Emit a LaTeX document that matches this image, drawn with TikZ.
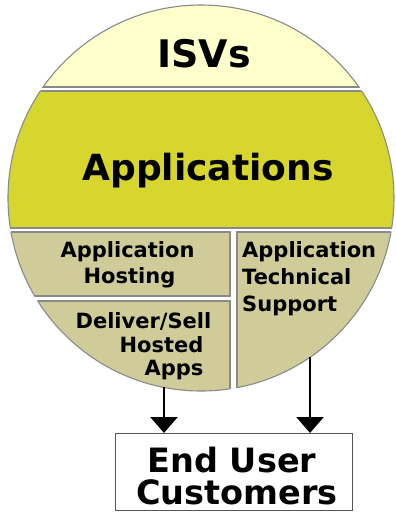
\documentclass[tikz,border=0pt]{standalone}
\usepackage{fontspec}
\setmainfont{DejaVu Sans}
\usetikzlibrary{arrows.meta}
\definecolor{isvfill}{HTML}{FFFFCC}
\definecolor{appfill}{HTML}{D6D62E}
\definecolor{cellfill}{HTML}{D0CC9A}
\definecolor{edgegray}{HTML}{8A8A8A}
\definecolor{boxgray}{HTML}{555555}
% a piece of the disc: rectangle [#2,#4] x [#3,#5] cut by the circle
\newcommand\bandzone[5]{%
  \begin{scope}
    \clip (#2,#3) rectangle (#4,#5);
    \filldraw[fill=#1, edge] (C) circle (193);
  \end{scope}
  \begin{scope}
    \clip (C) circle (193);
    \draw[edge] (#2,#3) rectangle (#4,#5);
  \end{scope}}
\begin{document}
\begin{tikzpicture}[x=1pt,y=-1pt,
  edge/.style={draw=edgegray, line width=1.1pt},
  bigtext/.style={font=\bfseries\fontsize{37}{40}\selectfont, inner sep=0pt, anchor=base},
  smalltext/.style={font=\bfseries\fontsize{21}{24}\selectfont, inner sep=0pt, anchor=base},
  flow/.style={line width=2.6pt, -{Triangle[width=27pt,length=16pt]}}]
\useasboundingbox (0,0) rectangle (396,512);
\coordinate (C) at (201,198);

% the disc, cut into its bands and cells
\bandzone{isvfill}{0}{0}{396}{87}
\bandzone{appfill}{0}{91}{396}{228}
\bandzone{cellfill}{0}{232}{230}{296}
\bandzone{cellfill}{0}{301}{230}{400}
\bandzone{cellfill}{237}{232}{396}{400}

% labels of the bands
\node[bigtext, font=\bfseries\fontsize{38}{40}\selectfont] (isv) at (204,67) {ISVs};
\node[bigtext, font=\bfseries\fontsize{36}{40}\selectfont] (apps) at (208,180) {Applications};

% left cells
\node[smalltext] (hostA) at (127.5,257) {Application};
\node[smalltext] (hostB) at (129.5,283) {Hosting};
\node[smalltext] (dlvA) at (143.5,328) {Deliver/Sell};
\node[smalltext] (dlvB) at (161.5,352) {Hosted};
\node[smalltext] (dlvC) at (174,375) {Apps};

% right cell
\node[smalltext, anchor=base west] (supA) at (242,257) {Application};
\node[smalltext, anchor=base west] (supB) at (242,284) {Technical};
\node[smalltext, anchor=base west] (supC) at (242,311) {Support};

% customers box
\node[draw=boxgray, line width=1.2pt, minimum width=237pt, minimum height=77pt,
      inner sep=0pt, anchor=north west] (euc) at (115,433) {};
\node[bigtext, font=\bfseries\fontsize{33.5}{40}\selectfont] (eucA) at (232,472) {End User};
\node[bigtext, font=\bfseries\fontsize{33.5}{40}\selectfont] (eucB) at (237,504) {Customers};

% connectors from the cells down to the customers
\coordinate (dlvfoot) at (164,387);
\coordinate (supfoot) at (310,357);
\draw[flow] (dlvfoot) -- (dlvfoot |- euc.north);
\draw[flow] (supfoot) -- (supfoot |- euc.north);
\end{tikzpicture}
\end{document}
